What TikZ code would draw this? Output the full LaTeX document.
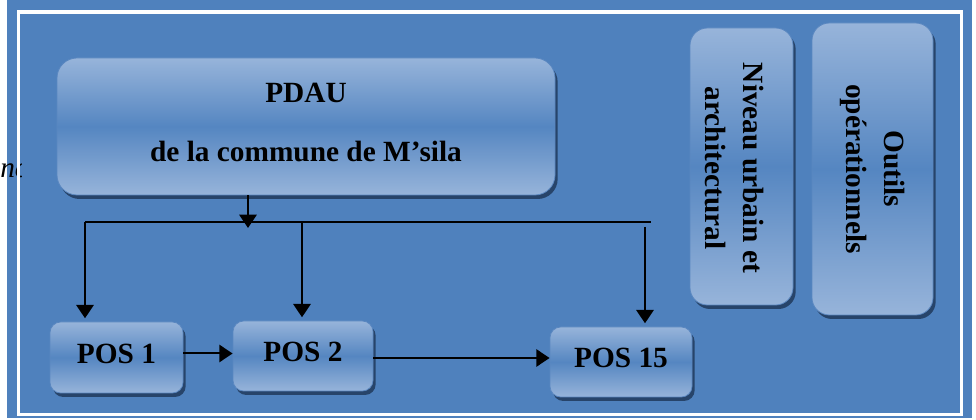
\documentclass[tikz,border=0pt]{standalone}
\usepackage{fontspec}
\setmainfont{Liberation Serif}
\usetikzlibrary{arrows.meta,shadows}
\definecolor{bgblue}{HTML}{4F81BD}
\definecolor{boxlight}{HTML}{97B4DA}
\definecolor{boxmid}{HTML}{5586C1}
\definecolor{boxedge}{HTML}{5A87C0}
\definecolor{shadowc}{HTML}{27446A}
\begin{document}
\begin{tikzpicture}[x=0.75pt,y=-0.75pt,
  box/.style={rounded corners=#1, top color=boxlight, bottom color=boxlight, middle color=boxmid,
    draw=boxedge, line width=0.6pt, inner sep=0pt,
    drop shadow={shadow xshift=2pt, shadow yshift=-3pt, fill=shadowc, opacity=1},
    font=\fontsize{22}{25}\selectfont\bfseries, align=center},
  box/.default=8pt,
  vtext/.style={rotate=-90, align=center, inner sep=0pt, font=\fontsize{22}{28.5}\selectfont\bfseries},
  ln/.style={line width=1.5pt, black},
  arr/.style={ln, -{Triangle[length=10pt,width=13pt]}}]
\useasboundingbox (0,0) rectangle (976,420);
\fill[white] (0,0) rectangle (976,420);
\fill[bgblue] (7,0) rectangle (972,418);
\begin{scope}
  \clip (0,0) rectangle (21,420);
  \node[anchor=base west, inner sep=0pt, font=\fontsize{22}{25}\selectfont\itshape] (frag) at (0,178) {nc};
\end{scope}
\draw[white, line width=2.5pt] (18.5,12) rectangle (961.5,414.5);

\node[box=15pt, minimum width=373.5pt, minimum height=102.75pt, text depth=6pt] (pdau) at (306,126.5) {PDAU\\[19pt]de la commune de M’sila};
\node[box=8pt, minimum width=99.75pt, minimum height=53.25pt, text depth=6pt] (pos1) at (116.5,357.5) {POS 1};
\node[box=8pt, minimum width=105pt, minimum height=52.5pt, text depth=6pt] (pos2) at (303,356) {POS 2};
\node[box=8pt, minimum width=106.5pt, minimum height=52.5pt, text depth=6pt] (pos15) at (621,362) {POS 15};
\node[box=13pt, minimum width=77.25pt, minimum height=207.75pt] (niv) at (741.5,166.5) {};
\node[box=13pt, minimum width=90.75pt, minimum height=219pt] (out) at (872.5,169) {};
\node[vtext] (nivt) at (734.5,168) {Niveau urbain et\\architectural};
\node[vtext] (outt) at (872.5,169) {Outils\\opérationnels};

\coordinate (jn) at (248,228);
\coordinate (hl) at (85,222.5);
\coordinate (hr) at (651,222.5);
\coordinate (m0) at (302,222.5);
\coordinate (r0) at (645,227);
\draw[arr] (pdau.south -| jn) -- (jn);
\draw[ln] (hl) -- (hr);
\draw[arr, shorten >=2.5pt] (hl) -- (hl |- pos1.north);
\draw[arr, shorten >=2.5pt] (m0) -- (m0 |- pos2.north);
\draw[arr, shorten >=2.5pt] (r0) -- (r0 |- pos15.north);
\draw[arr] ([yshift=3pt]pos1.east) -- ([yshift=3pt]pos1.east -| pos2.west);
\draw[arr] ([yshift=-1.5pt]pos2.east) -- ([yshift=-1.5pt]pos2.east -| pos15.west);
\end{tikzpicture}
\end{document}
